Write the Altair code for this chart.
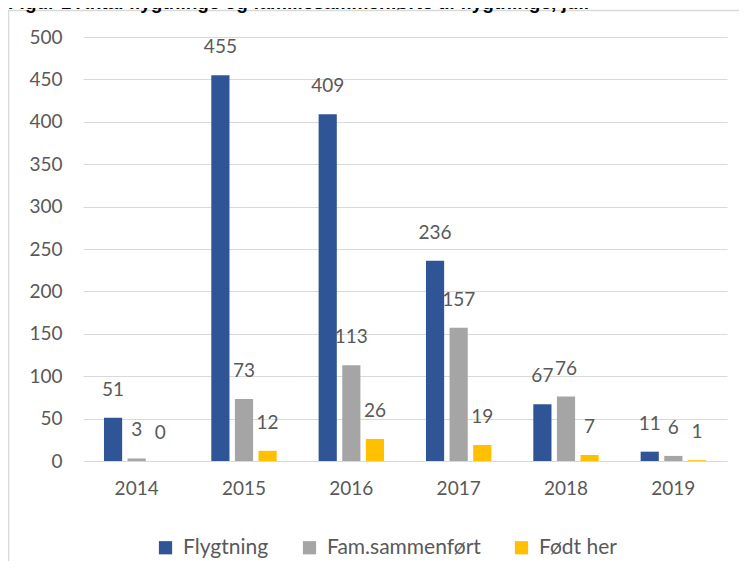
import altair as alt
import pandas as pd

years = ["2014", "2015", "2016", "2017", "2018", "2019"]
series = ["Flygtning", "Fam.sammenført", "Født her"]
flygtning = [51, 455, 409, 236, 67, 11]
fam = [3, 73, 113, 157, 76, 6]
fodt = [0, 12, 26, 19, 7, 1]
colors = ["#2F5597", "#A5A5A5", "#FFC000"]
title_text = "Figur 1 Antal flygtninge og familiesammenførte til flygtninge, juli"

rows = []
for i, y in enumerate(years):
    for s, vals in zip(series, [flygtning, fam, fodt]):
        rows.append({"year": y, "series": s, "value": vals[i]})
df = pd.DataFrame(rows)

FONT = "Lato"
TXT = "#595959"

x = alt.X("year:N", sort=years,
          scale=alt.Scale(paddingInner=0.34, paddingOuter=0.17),
          axis=alt.Axis(title=None, labelAngle=0, labelFontSize=19, labelColor=TXT,
                        labelFont=FONT, ticks=False, domain=False, labelPadding=18))
xo = alt.XOffset("series:N", sort=series,
                 scale=alt.Scale(paddingInner=0.23, paddingOuter=0.115))
y = alt.Y("value:Q", scale=alt.Scale(domain=[0, 500]),
          axis=alt.Axis(title=None, values=list(range(0, 501, 50)), labelFontSize=19,
                        labelColor=TXT, labelFont=FONT, ticks=False, domain=False,
                        labelPadding=21, gridColor="#D9D9D9", gridWidth=1))
color = alt.Color("series:N", sort=series,
                  scale=alt.Scale(domain=series, range=colors),
                  legend=alt.Legend(title=None, orient="none", direction="horizontal",
                                    legendX=72, legendY=500, symbolType="square",
                                    symbolSize=175, symbolStrokeWidth=0,
                                    labelFontSize=21, labelColor=TXT, labelFont=FONT,
                                    columnPadding=30, symbolOffset=0, labelOffset=7))

base = alt.Chart(df)
bars = base.mark_bar().encode(x=x, xOffset=xo, y=y, color=color)
labels = base.mark_text(baseline="middle", dy=-28, fontSize=19, font=FONT, color=TXT).encode(
    x=x, xOffset=xo, y=y, text="value:Q")

title = alt.Chart(pd.DataFrame({"t": [title_text]})).mark_text(
    align="left", baseline="alphabetic", fontSize=19, fontWeight="bold",
    font="Liberation Sans", color="#000000").encode(
    x=alt.value(-75), y=alt.value(-28), text="t:N")

frame_left = alt.Chart(pd.DataFrame({"a": [0]})).mark_rule(color="#D9D9D9", strokeWidth=1.5).encode(
    x=alt.value(-74.5), y=alt.value(-27), y2=alt.value(560))
frame_top = alt.Chart(pd.DataFrame({"a": [0]})).mark_rule(color="#D9D9D9", strokeWidth=1.5).encode(
    x=alt.value(-75), x2=alt.value(680), y=alt.value(-26.5))

chart = alt.layer(frame_left, frame_top, bars, labels, title).properties(
    width=644, height=424,
    autosize=alt.AutoSizeParams(type="none"),
    padding={"left": 75, "top": 29, "right": 12, "bottom": 100},
    background="#FFFFFF",
).configure_view(stroke=None)

chart.save("out.html", embed_options={"renderer": "svg", "actions": False})
